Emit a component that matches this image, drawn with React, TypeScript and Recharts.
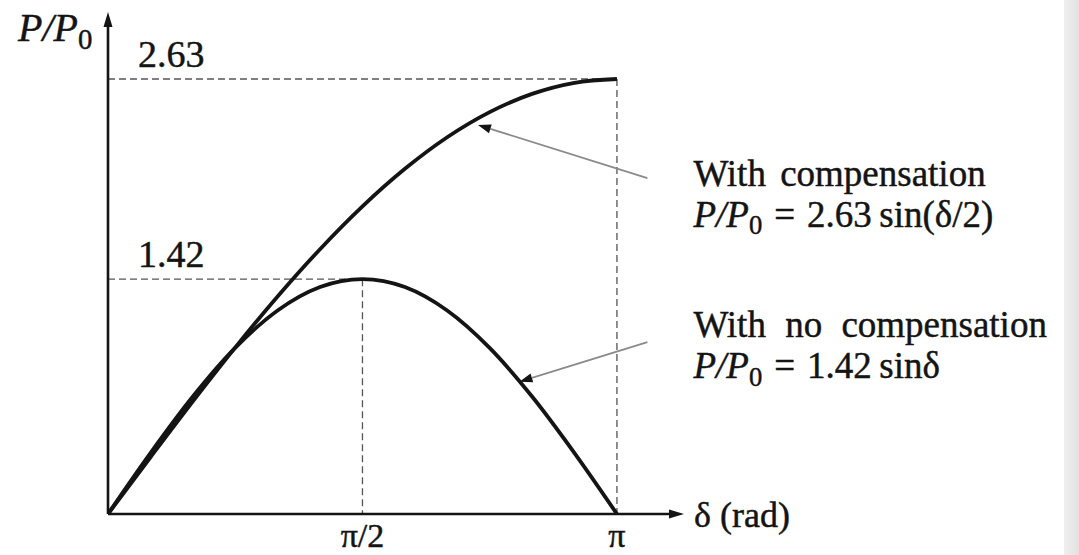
import React from 'react';
import { LineChart, Line, XAxis, YAxis, ReferenceLine } from 'recharts';

// Load angle δ in radians, sampled every 15°
const delta = [0, 0.262, 0.524, 0.785, 1.047, 1.309, 1.571, 1.833, 2.094, 2.356, 2.618, 2.88, 3.142];
// P/P0 with series compensation
const withCompensation = [0, 0.343, 0.681, 1.006, 1.315, 1.601, 1.86, 2.087, 2.278, 2.43, 2.54, 2.607, 2.63];
// P/P0 without compensation
const noCompensation = [0, 0.368, 0.71, 1.004, 1.23, 1.372, 1.42, 1.372, 1.23, 1.004, 0.71, 0.368, 0];

const PEAK_COMP = 2.63;
const PEAK_NONE = 1.42;
const HALF_PI = 1.571;
const PI = 3.142;
const xTicks = [HALF_PI, PI];
const xTickLabels = ['π/2', 'π'];
const X_END = 3.556;
const Y_END = 3.035;

// Callout anchors: [delta, P/P0] for the tail (text side) and the tip (on the curve)
const compTail = [3.33, 2.031];
const compTip = [2.284, 2.352];
const noneTail = [3.33, 1.039];
const noneTip = [2.54, 0.8];

const data = delta.map((d, i) => ({ delta: d, comp: withCompensation[i], none: noCompensation[i] }));

const FONT = "'Liberation Serif', 'Times New Roman', serif";
const INK = '#141414';
const TEXT_STYLE = { stroke: INK, strokeWidth: 0.45 };
const NOTE_SIZE = 37;
const NOTE_LEADING = 41;

const headPoints = (x1: number, y1: number, x2: number, y2: number, len: number, half: number) => {
  const a = Math.atan2(y2 - y1, x2 - x1);
  const bx = x2 - len * Math.cos(a);
  const by = y2 - len * Math.sin(a);
  const px = -Math.sin(a) * half;
  const py = Math.cos(a) * half;
  return { pts: `${x2},${y2} ${bx + px},${by + py} ${bx - px},${by - py}`, bx, by };
};

const PP0 = ({ size }: { size: number }) => (
  <>
    <tspan fontStyle="italic">P</tspan>
    <tspan fontStyle="italic">/</tspan>
    <tspan fontStyle="italic">P</tspan>
    <tspan fontSize={size * 0.72} dy={size * 0.2}>0</tspan>
  </>
);

const yAxisArrow = (p: any) => {
  const h = headPoints(p.x1, p.y1, p.x2, p.y2, 15, 4.5);
  return (
    <g>
      <line x1={p.x1} y1={p.y1} x2={h.bx} y2={h.by} stroke={INK} strokeWidth={2.6} />
      <polygon points={h.pts} fill={INK} />
      <text x={p.x2 - 90} y={p.y2 + 29} fontFamily={FONT} fontSize={40} fill={INK} style={TEXT_STYLE}>
        <PP0 size={40} />
      </text>
    </g>
  );
};

const xAxisArrow = (p: any) => {
  const h = headPoints(p.x1, p.y1, p.x2, p.y2, 15, 4.5);
  return (
    <g>
      <line x1={p.x1} y1={p.y1} x2={h.bx} y2={h.by} stroke={INK} strokeWidth={2.6} />
      <polygon points={h.pts} fill={INK} />
      <text x={p.x2 + 10} y={p.y2 + 13} fontFamily={FONT} fontSize={36} fill={INK} style={TEXT_STYLE}>
        δ (rad)
      </text>
    </g>
  );
};

const guide = (label?: string) => (p: any) => (
  <g>
    <line x1={p.x1} y1={p.y1} x2={p.x2} y2={p.y2} stroke="#555" strokeWidth={1.3} strokeDasharray="7 4" />
    {label ? (
      <text x={Math.min(p.x1, p.x2) + 30} y={p.y1 - 12} fontFamily={FONT} fontSize={38} fill={INK} style={TEXT_STYLE}>
        {label}
      </text>
    ) : null}
  </g>
);

const callout = (title: string, formula: string, dx: number, dy: number, spacing: number) => (p: any) => {
  const h = headPoints(p.x1, p.y1, p.x2, p.y2, 13, 4.5);
  const tx = p.x1 + dx;
  return (
    <g>
      <line x1={p.x1} y1={p.y1} x2={h.bx} y2={h.by} stroke="#8a8a8a" strokeWidth={1.8} />
      <polygon points={h.pts} fill={INK} />
      <text x={tx} y={p.y1 + dy} fontFamily={FONT} fontSize={NOTE_SIZE} fill={INK} wordSpacing={spacing} style={TEXT_STYLE}>
        {title}
      </text>
      <text x={tx} y={p.y1 + dy + NOTE_LEADING} fontFamily={FONT} fontSize={NOTE_SIZE} fill={INK} style={TEXT_STYLE}>
        <PP0 size={NOTE_SIZE} />
        <tspan dy={-NOTE_SIZE * 0.2} dx={12}>=</tspan>
        <tspan dx={12}>{formula}</tspan>
      </text>
    </g>
  );
};

const XTick = (props: any) => {
  const { x, y, payload, index } = props;
  return (
    <text x={x} y={y + 33} textAnchor="middle" fontFamily={FONT} fontSize={34} fill={INK} style={TEXT_STYLE}>
      {xTickLabels[index] ?? payload.value}
    </text>
  );
};

export default function App() {
  return (
    <div style={{ position: 'absolute', left: 0, top: 0, width: 1079, height: 555, background: '#fff', overflow: 'hidden' }}>
      <div
        style={{
          position: 'absolute',
          left: 1064,
          top: 0,
          width: 15,
          height: 555,
          background: 'linear-gradient(to right, #efefef, #e2e2e2)',
        }}
      />
      <LineChart width={1079} height={555} data={data} margin={{ top: 12, right: 395, left: 108, bottom: 0 }}>
        <XAxis
          dataKey="delta"
          type="number"
          domain={[0, X_END]}
          ticks={xTicks}
          interval={0}
          axisLine={false}
          tickLine={false}
          tickSize={0}
          tickMargin={0}
          height={41}
          tick={<XTick />}
          allowDataOverflow
        />
        <YAxis hide type="number" domain={[0, Y_END]} allowDataOverflow />
        <ReferenceLine segment={[{ x: 0, y: PEAK_COMP }, { x: PI, y: PEAK_COMP }]} shape={guide(String(PEAK_COMP))} ifOverflow="visible" />
        <ReferenceLine segment={[{ x: PI, y: PEAK_COMP }, { x: PI, y: 0 }]} shape={guide()} ifOverflow="visible" />
        <ReferenceLine segment={[{ x: 0, y: PEAK_NONE }, { x: HALF_PI, y: PEAK_NONE }]} shape={guide(String(PEAK_NONE))} ifOverflow="visible" />
        <ReferenceLine segment={[{ x: HALF_PI, y: PEAK_NONE }, { x: HALF_PI, y: 0 }]} shape={guide()} ifOverflow="visible" />
        <ReferenceLine segment={[{ x: 0, y: 0 }, { x: 0, y: Y_END }]} shape={yAxisArrow} ifOverflow="visible" />
        <ReferenceLine segment={[{ x: 0, y: 0 }, { x: X_END, y: 0 }]} shape={xAxisArrow} ifOverflow="visible" />
        <Line dataKey="comp" type="monotone" stroke={INK} strokeWidth={3.8} dot={false} activeDot={false} isAnimationActive={false} />
        <Line dataKey="none" type="monotone" stroke={INK} strokeWidth={3.8} dot={false} activeDot={false} isAnimationActive={false} />
        <ReferenceLine
          segment={[{ x: compTail[0], y: compTail[1] }, { x: compTip[0], y: compTip[1] }]}
          shape={callout('With compensation', `${PEAK_COMP}\u2009sin(δ/2)`, 46, 8, 5)}
          ifOverflow="visible"
        />
        <ReferenceLine
          segment={[{ x: noneTail[0], y: noneTail[1] }, { x: noneTip[0], y: noneTip[1] }]}
          shape={callout('With no compensation', `${PEAK_NONE}\u2009sinδ`, 46, -5, 10)}
          ifOverflow="visible"
        />
      </LineChart>
    </div>
  );
}
